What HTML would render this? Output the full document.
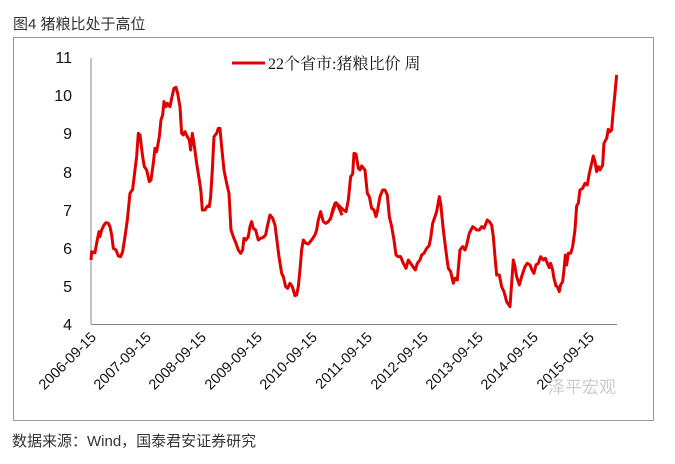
<!DOCTYPE html>
<html><head><meta charset="utf-8"><style>
body{margin:0;background:#fff;width:675px;height:464px;overflow:hidden;font-family:"Liberation Sans","Noto Sans CJK SC",sans-serif;}
</style></head><body>
<svg width="675" height="464" viewBox="0 0 675 464" xmlns="http://www.w3.org/2000/svg" style="position:absolute;left:0;top:0">
<text x="13" y="29" font-size="15" fill="#333" font-family="Liberation Sans,Noto Sans CJK SC,sans-serif">图4 猪粮比处于高位</text>
<rect x="13.5" y="37.5" width="640" height="383" fill="#fff" stroke="#999" stroke-width="1"/>
<line x1="91" y1="58" x2="91" y2="324" stroke="#888" stroke-width="1"/>
<line x1="91" y1="324.5" x2="617" y2="324.5" stroke="#888" stroke-width="1"/>
<g font-size="16" fill="#111" text-anchor="end" font-family="Liberation Sans,sans-serif">
<text x="72" y="63">11</text><text x="72" y="101">10</text><text x="72" y="139">9</text><text x="72" y="178">8</text><text x="72" y="216">7</text><text x="72" y="254">6</text><text x="72" y="292">5</text><text x="72" y="330">4</text>
</g>
<g font-size="14.5" fill="#111" text-anchor="end" font-family="Liberation Sans,sans-serif">
<text transform="translate(97,338) rotate(-45)">2006-09-15</text>
<text transform="translate(152,338) rotate(-45)">2007-09-15</text>
<text transform="translate(207,338) rotate(-45)">2008-09-15</text>
<text transform="translate(263,338) rotate(-45)">2009-09-15</text>
<text transform="translate(318,338) rotate(-45)">2010-09-15</text>
<text transform="translate(373,338) rotate(-45)">2011-09-15</text>
<text transform="translate(429,338) rotate(-45)">2012-09-15</text>
<text transform="translate(484,338) rotate(-45)">2013-09-15</text>
<text transform="translate(539,338) rotate(-45)">2014-09-15</text>
<text transform="translate(595,338) rotate(-45)">2015-09-15</text>
</g>
<text x="548" y="393" font-size="17" fill="#ccc">泽平宏观</text>
<line x1="232" y1="63" x2="265" y2="63" stroke="#e00000" stroke-width="3"/>
<text x="268" y="69" font-size="16" fill="#111" font-family="Liberation Serif,Noto Serif CJK SC,serif">22个省市:猪粮比价 周</text>
<g transform="translate(0,30) scale(0.3333)">
<polyline fill="none" stroke="#e00000" stroke-width="3" vector-effect="non-scaling-stroke" stroke-linejoin="round" points="273,690 275,665 285,668 290,640 297,605 300,620 305,600 312,585 318,578 325,580 330,590 335,615 340,655 348,660 355,678 362,680 368,665 375,620 382,570 390,490 398,478 405,420 410,380 415,310 420,315 428,380 433,410 440,420 448,455 453,450 460,400 465,355 470,365 478,320 483,270 488,255 492,215 498,230 502,220 510,230 515,205 522,175 528,172 533,190 540,230 545,310 550,315 555,305 562,320 568,330 572,360 577,310 582,340 590,400 598,450 603,485 607,540 615,540 622,528 628,530 632,500 637,420 642,320 650,310 655,295 660,295 665,350 672,420 680,460 687,490 693,600 700,620 708,640 715,660 722,670 728,660 732,625 738,630 745,620 750,590 755,575 760,595 767,600 775,630 782,625 790,622 797,615 803,585 810,555 818,565 825,585 832,640 837,680 845,730 850,740 857,770 863,775 870,760 877,770 885,797 890,795 895,770 900,720 905,660 910,630 918,640 925,642 935,630 945,615 950,600 955,570 962,545 970,575 978,580 985,575 992,565 998,540 1005,520 1012,525 1020,540 1026,556"/>
</g>
<g transform="translate(330,30) scale(0.3333)">
<polyline fill="none" stroke="#e00000" stroke-width="3" vector-effect="non-scaling-stroke" stroke-linejoin="round" points="0,570 10,540 18,518 30,530 40,540 48,545 55,510 62,440 68,432 72,370 78,372 85,415 90,420 95,408 105,420 112,490 118,500 125,535 132,540 138,560 142,545 150,500 158,480 165,480 172,495 178,560 185,590 192,630 198,675 205,680 212,680 220,700 228,715 235,690 242,700 250,712 256,720 262,700 270,690 275,675 282,670 290,655 297,648 302,625 308,580 315,560 320,545 328,500 332,520 340,600 350,680 355,715 362,725 370,760 375,745 382,750 390,660 398,650 405,660 410,645 418,610 428,590 435,595 440,600 448,600 455,590 462,595 468,580 472,570 478,575 485,585 490,620 495,680 500,735 508,735 515,770 522,785 530,815 540,830 545,760 550,690 555,710 560,740 568,765 575,740 585,710 592,700 600,705 606,720 612,730 618,705 625,700 632,680 640,690 646,685 652,700 658,713 662,700 668,720 672,745 678,768 682,770 688,785 692,765 698,755 702,720 706,675 710,705 715,670 722,670 728,650 735,600 740,528 745,520 750,480 758,475 765,460 772,465 778,430 785,400 790,378 795,395 800,425 805,410 810,420 818,405 822,340 830,325 835,298 840,305 845,300 850,240 855,190 860,135"/>
</g>
<text x="12" y="446" font-size="15" fill="#333" font-family="Liberation Sans,Noto Sans CJK SC,sans-serif">数据来源：Wind，国泰君安证券研究</text>
</svg>
</body></html>
